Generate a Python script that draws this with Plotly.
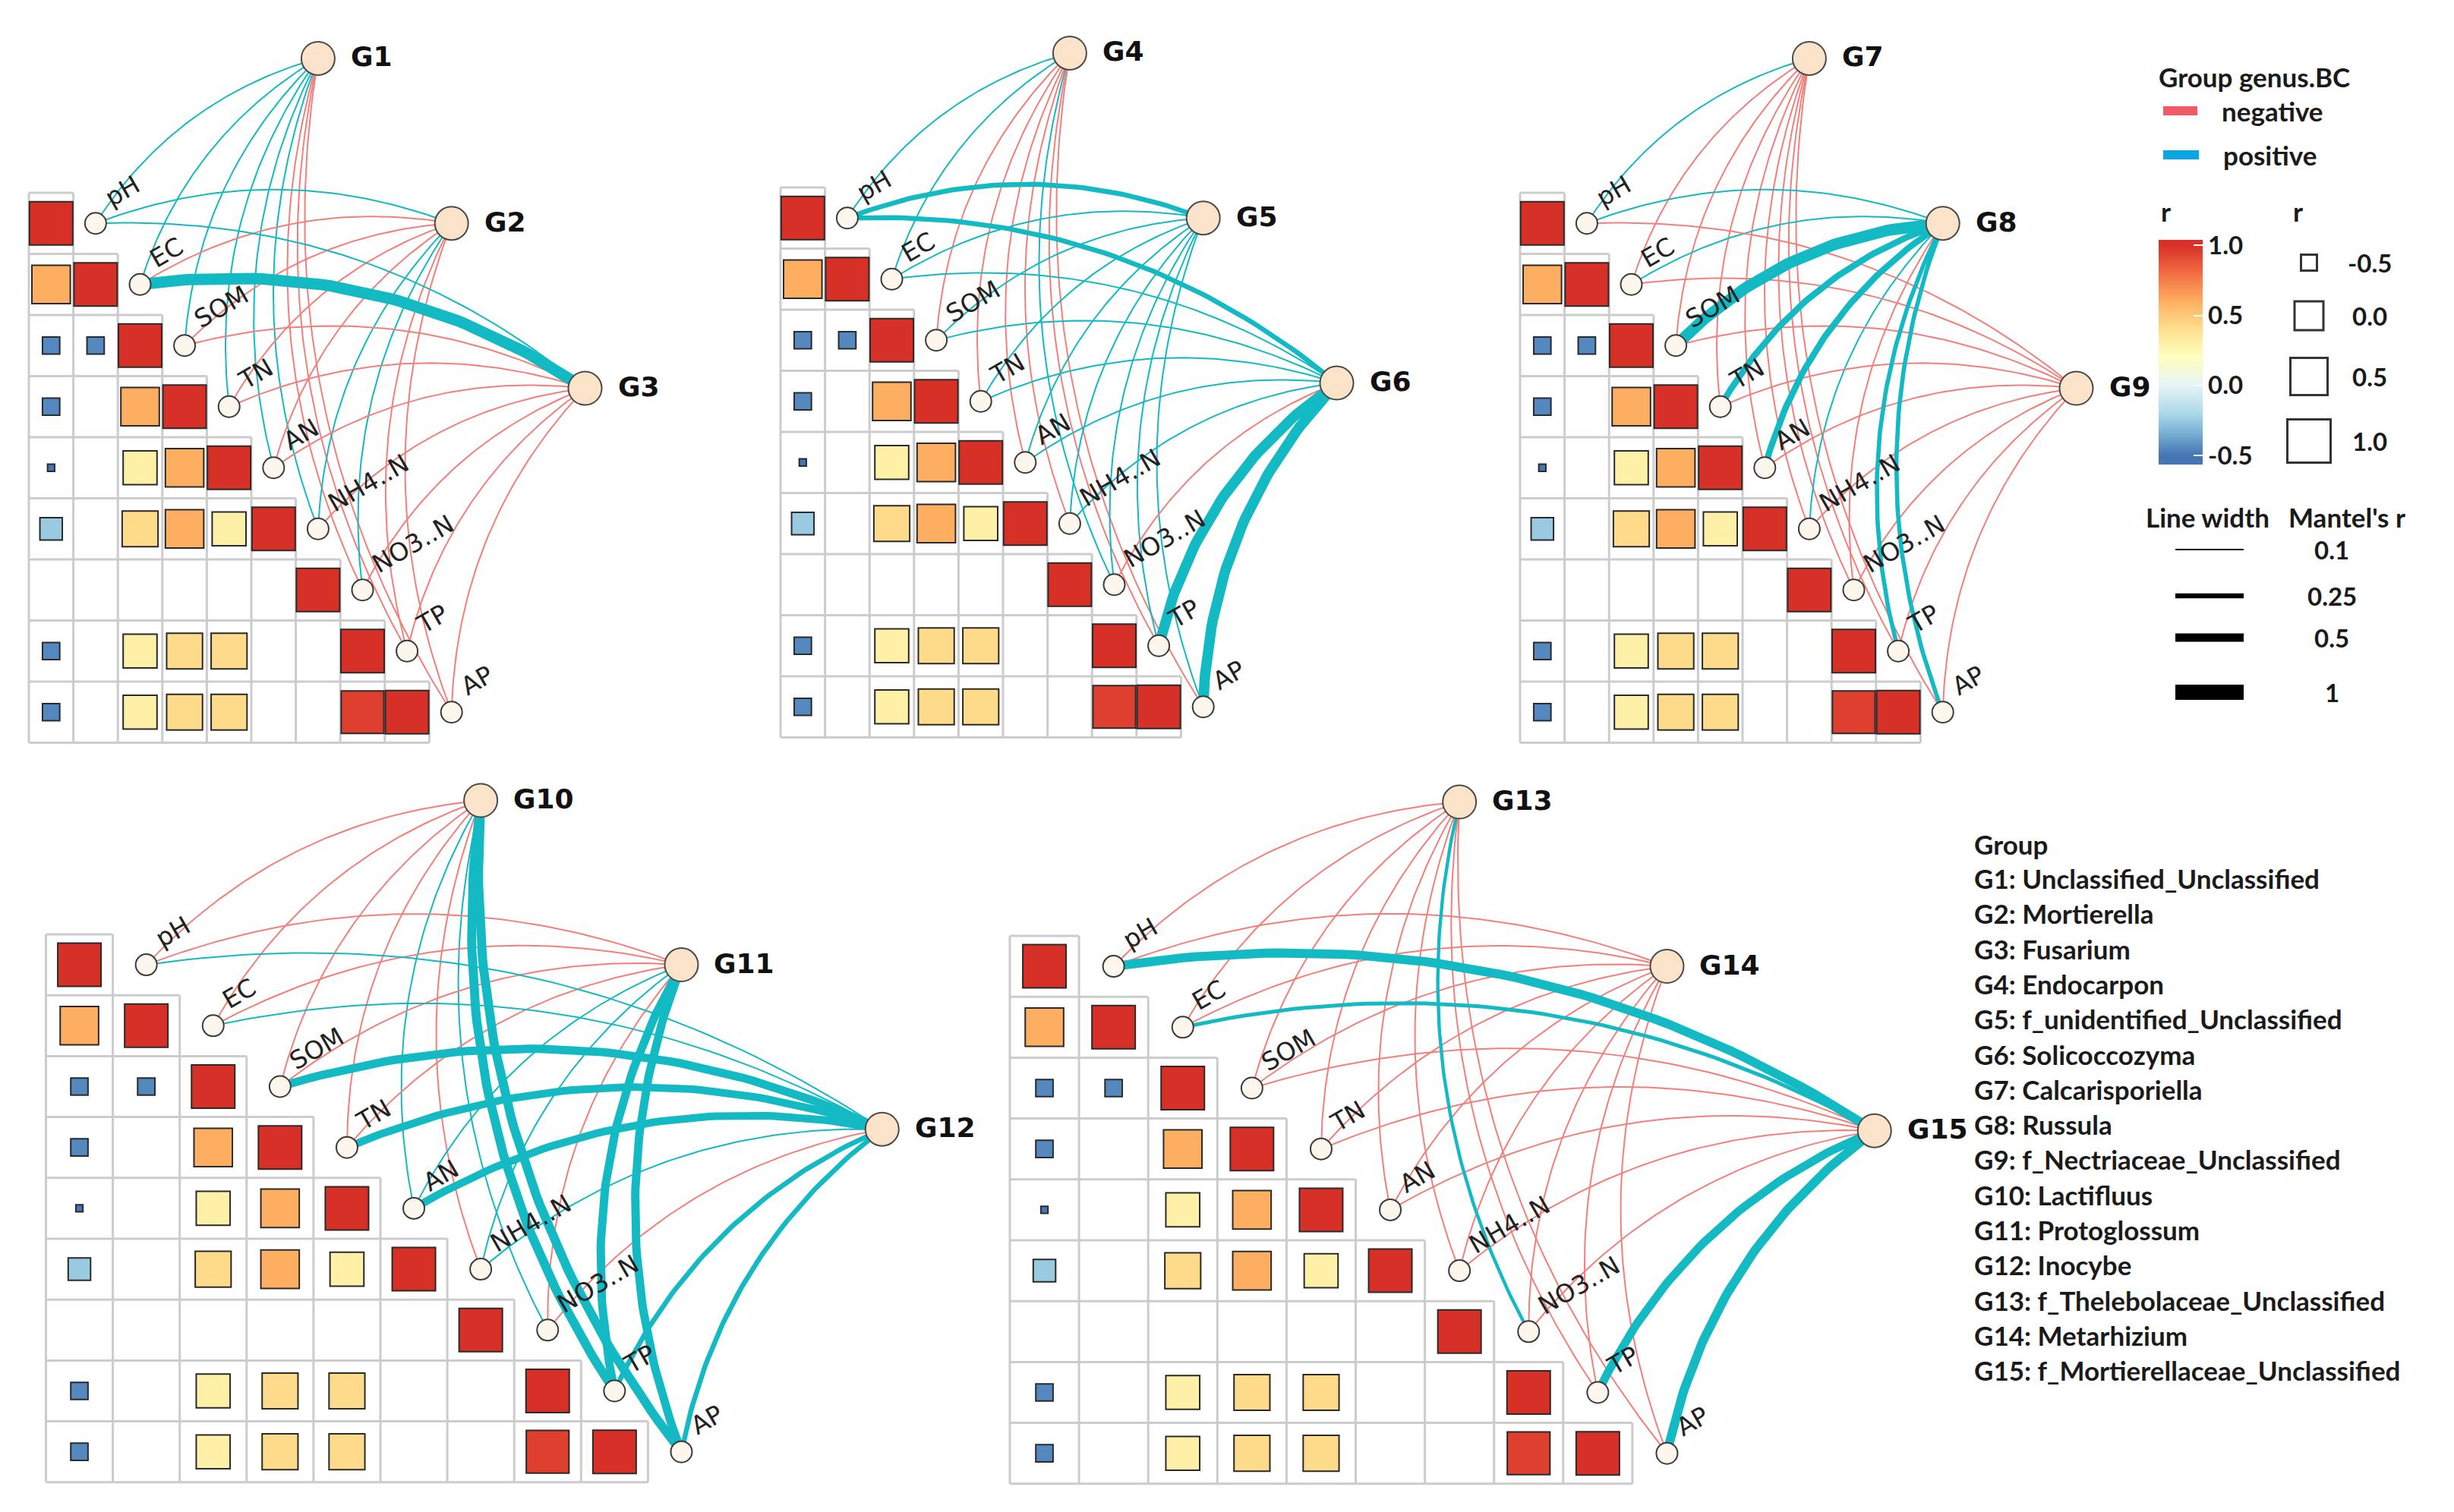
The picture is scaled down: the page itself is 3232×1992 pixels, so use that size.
import numpy as np
import plotly.graph_objects as go

W, H = 3232, 1992

# ---------------- data ----------------
ENV_VARS = ["pH", "EC", "SOM", "TN", "AN", "NH4..N", "NO3..N", "TP", "AP"]

# lower-triangular correlation matrix (row i, columns 0..i); None = not significant
CORR_ROWS = [
    [1.00],
    [0.60, 1.00],
    [-0.45, -0.45, 1.00],
    [-0.45, None, 0.60, 1.00],
    [-0.68, None, 0.30, 0.60, 1.00],
    [-0.25, None, 0.42, 0.60, 0.30, 1.00],
    [None, None, None, None, None, None, 1.00],
    [-0.45, None, 0.30, 0.42, 0.42, None, None, 1.00],
    [-0.45, None, 0.30, 0.42, 0.42, None, None, 0.95, 1.00],
]

PANEL_GROUPS = [
    ["G1", "G2", "G3"],
    ["G4", "G5", "G6"],
    ["G7", "G8", "G9"],
    ["G10", "G11", "G12"],
    ["G13", "G14", "G15"],
]

# signed Mantel's r of each group with each env variable (sign -> colour, |r| -> width)
MANTEL_P1 = [
    [0.10, 0.10, 0.10, 0.10, 0.10, 0.10, -0.10, -0.10, -0.10],
    [0.10, -0.10, -0.10, -0.10, -0.10, 0.10, 0.10, -0.10, -0.10],
    [0.10, 0.72, -0.10, -0.10, -0.10, -0.10, -0.10, -0.10, -0.10],
]
MANTEL_P2 = [
    [0.10, 0.10, -0.10, -0.10, -0.10, -0.10, 0.10, -0.10, -0.10],
    [0.25, 0.10, 0.10, 0.10, 0.10, 0.10, 0.10, 0.10, 0.10],
    [0.25, 0.10, 0.10, 0.10, 0.10, 0.10, -0.10, 0.65, 0.65],
]
MANTEL_P3 = [
    [0.10, -0.10, -0.10, -0.10, -0.10, -0.10, -0.10, -0.10, -0.10],
    [0.10, 0.10, 0.72, 0.35, 0.35, 0.10, -0.10, 0.22, 0.22],
    [-0.10, -0.10, -0.10, -0.10, -0.10, -0.10, -0.10, -0.10, -0.10],
]
MANTEL_P4 = [
    [-0.10, -0.10, -0.10, -0.10, 0.10, -0.10, 0.10, 0.55, 0.55],
    [-0.10, -0.10, -0.10, -0.10, 0.10, 0.10, -0.10, 0.50, 0.50],
    [0.10, 0.10, 0.50, 0.45, 0.45, 0.10, -0.10, 0.25, 0.25],
]
MANTEL_P5 = [
    [-0.10, -0.10, -0.10, -0.10, -0.10, -0.10, 0.18, -0.10, -0.10],
    [-0.10, -0.10, -0.10, -0.10, -0.10, -0.10, -0.10, -0.10, -0.10],
    [0.55, 0.20, -0.10, -0.10, -0.10, -0.10, -0.10, 0.50, 0.55],
]
MANTEL = [MANTEL_P1, MANTEL_P2, MANTEL_P3, MANTEL_P4, MANTEL_P5]

GROUP_NAMES = [
    "Unclassified_Unclassified", "Mortierella", "Fusarium", "Endocarpon",
    "f_unidentified_Unclassified", "Solicoccozyma", "Calcarisporiella", "Russula",
    "f_Nectriaceae_Unclassified", "Lactifluus", "Protoglossum", "Inocybe",
    "f_Thelebolaceae_Unclassified", "Metarhizium", "f_Mortierellaceae_Unclassified",
]

COLORBAR_TICKS = [-0.5, 0.0, 0.5, 1.0]
COLORBAR_TICK_TEXT = ["-0.5", "0.0", "0.5", "1.0"]
SIZE_KEYS = [-0.5, 0.0, 0.5, 1.0]
SIZE_KEY_TEXT = ["-0.5", "0.0", "0.5", "1.0"]
WIDTH_KEYS = [0.1, 0.25, 0.5, 1.0]
WIDTH_KEY_TEXT = ["0.1", "0.25", "0.5", "1"]

# ---------------- scales / styles ----------------
CB_MIN, CB_MAX = -0.565, 1.04
CS_R = [-0.565, -0.5, -0.35, -0.2, 0.0, 0.2, 0.4, 0.6, 0.8, 1.0, 1.04]
CS_C = ["#4575B4", "#4575B4", "#74ADD1", "#ABD9E9", "#E6F4F7", "#FFFFBF",
        "#FEE090", "#FDAE61", "#F46D43", "#D73027", "#D73027"]
COLORSCALE = [[(r - CB_MIN) / (CB_MAX - CB_MIN), c] for r, c in zip(CS_R, CS_C)]

SIZE_DOMAIN = [-0.7, -0.5, 0.0, 0.5, 1.0]
SIZE_RANGE = [8, 21, 38, 49, 57]
WIDTH_DOMAIN = [0.1, 0.25, 0.5, 1.0]
WIDTH_RANGE = [2.0, 6.5, 11.0, 20.0]


def square_side(r):
    return float(np.interp(r, SIZE_DOMAIN, SIZE_RANGE))


def link_width(m):
    return float(np.interp(abs(m), WIDTH_DOMAIN, WIDTH_RANGE))


NEG_COL = "#F37F7A"
POS_COL = "#13B9C3"
NEG_KEY = "#EF5B67"
POS_KEY = "#0BA5E2"

# panel geometry in pixels: grid left, grid top, cell width, cell height
PANEL_GEOM = [
    (30, 246, 58.6, 80.5),
    (1020, 239, 58.6, 80.5),
    (1994, 246, 58.6, 80.5),
    (52.5, 1223, 88.1, 80.2),
    (1322, 1225, 91.1, 80.2),
]
GROUP_POS = [(6.5, -2.2), (9.5, 0.5), (12.5, 3.2)]
XR = [-0.3, 14.0]
YR = [9.4, -2.8]

fig = go.Figure()
layout = dict(width=W, height=H, margin=dict(l=0, r=0, t=0, b=0, pad=0),
              paper_bgcolor="white", plot_bgcolor="rgba(0,0,0,0)", showlegend=False)
annotations = []


def bezier(p0, p2, k=0.19, n=60):
    a, b = p2[0] - p0[0], p2[1] - p0[1]
    mx, my = (p0[0] + p2[0]) / 2, (p0[1] + p2[1]) / 2
    cx, cy = mx - k * b, my + k * a
    t = np.linspace(0, 1, n)
    x = (1 - t) ** 2 * p0[0] + 2 * (1 - t) * t * cx + t ** 2 * p2[0]
    y = (1 - t) ** 2 * p0[1] + 2 * (1 - t) * t * cy + t ** 2 * p2[1]
    return x, y


for p, (L, T, cw, rh) in enumerate(PANEL_GEOM):
    n = p + 1
    sfx = "" if n == 1 else str(n)
    xa, ya = "x" + sfx, "y" + sfx
    x0, x1 = (L + XR[0] * cw) / W, (L + XR[1] * cw) / W
    ytop, ybot = max(T + YR[1] * rh, 0), min(T + YR[0] * rh, H)
    layout["xaxis" + sfx] = dict(domain=[x0, x1], range=XR, visible=False, anchor=ya, fixedrange=True)
    layout["yaxis" + sfx] = dict(domain=[1 - ybot / H, 1 - ytop / H],
                                 range=[(ybot - T) / rh, (ytop - T) / rh],
                                 visible=False, anchor=xa, fixedrange=True)

    # grid
    gx, gy = [], []
    nv = len(ENV_VARS)
    for k in range(nv + 1):
        gx += [0, min(k + 1, nv), None]
        gy += [k, k, None]
    for k in range(nv + 1):
        gx += [k, k, None]
        gy += [max(k - 1, 0), nv, None]
    fig.add_trace(go.Scatter(x=gx, y=gy, mode="lines", xaxis=xa, yaxis=ya,
                             line=dict(color="#CCCCCC", width=3), hoverinfo="skip",
                             cliponaxis=False))

    # squares
    sx, sy, sc, ss = [], [], [], []
    for i, row in enumerate(CORR_ROWS):
        for j, r in enumerate(row):
            if r is None:
                continue
            sx.append(j + 0.5)
            sy.append(i + 0.5)
            sc.append(r)
            ss.append(square_side(r))
    fig.add_trace(go.Scatter(x=sx, y=sy, mode="markers", xaxis=xa, yaxis=ya,
                             marker=dict(symbol="square", size=ss, color=sc, coloraxis="coloraxis",
                                         opacity=1, line=dict(color="#2A2A2A", width=2)),
                             cliponaxis=False, hoverinfo="skip"))

    # links
    links = []
    for g, (gxu, gyu) in enumerate(GROUP_POS):
        for e in range(nv):
            m = MANTEL[p][g][e]
            ex, ey = e + 1.5, e + 0.5
            links.append((abs(m), m, (gxu * cw, gyu * rh), (ex * cw, ey * rh)))
    links.sort(key=lambda z: z[0])
    for _, m, p0, p2 in links:
        bx, by = bezier(p0, p2)
        fig.add_trace(go.Scatter(x=bx / cw, y=by / rh, mode="lines", xaxis=xa, yaxis=ya,
                                 line=dict(color=POS_COL if m > 0 else NEG_COL, width=link_width(m)),
                                 cliponaxis=False, hoverinfo="skip"))

    # env nodes
    ex = [e + 1.5 for e in range(nv)]
    ey = [e + 0.5 for e in range(nv)]
    fig.add_trace(go.Scatter(x=ex, y=ey, mode="markers", xaxis=xa, yaxis=ya,
                             marker=dict(symbol="circle", size=28, color="#FDF6EC", opacity=1,
                                         line=dict(color="#3A3A3A", width=2)),
                             cliponaxis=False, hoverinfo="skip"))
    for e, name in enumerate(ENV_VARS):
        annotations.append(dict(x=ex[e], y=ey[e], xref=xa, yref=ya, text=name, showarrow=False,
                                xanchor="left", yanchor="bottom", xshift=3, yshift=12,
                                textangle=-30,
                                font=dict(family="DejaVu Sans", size=33, color="#222222")))

    # group nodes
    gxs = [g[0] for g in GROUP_POS]
    gys = [g[1] for g in GROUP_POS]
    fig.add_trace(go.Scatter(x=gxs, y=gys, mode="markers", xaxis=xa, yaxis=ya,
                             marker=dict(symbol="circle", size=44, color="#FBE3C9", opacity=1,
                                         line=dict(color="#4A4A4A", width=2)),
                             cliponaxis=False, hoverinfo="skip"))
    for g, name in enumerate(PANEL_GROUPS[p]):
        annotations.append(dict(x=gxs[g], y=gys[g], xref=xa, yref=ya, text="<b>%s</b>" % name,
                                showarrow=False, xanchor="left", yanchor="middle", xshift=41,
                                yshift=2, font=dict(family="DejaVu Sans", size=36, color="#111111")))

# overlay axis in pixel units for legends
layout["xaxis6"] = dict(domain=[0, 1], range=[0, W], visible=False, anchor="y6", fixedrange=True)
layout["yaxis6"] = dict(domain=[0, 1], range=[H, 0], visible=False, anchor="x6", fixedrange=True)

LEG_FONT = "Lato"


def ltext(x, y, s, size=35, xanchor="left", color="#1A1A1A"):
    annotations.append(dict(x=x, y=y, xref="x6", yref="y6", text="<b>%s</b>" % s, showarrow=False,
                            xanchor=xanchor, yanchor="middle",
                            font=dict(family=LEG_FONT, size=size, color=color)))


# colour legend of links
ltext(2833, 93, "Group genus.BC")
fig.add_trace(go.Scatter(x=[2841, 2886], y=[138, 138], mode="lines", xaxis="x6", yaxis="y6",
                         line=dict(color=NEG_KEY, width=12), hoverinfo="skip", cliponaxis=False))
fig.add_trace(go.Scatter(x=[2841, 2888], y=[196, 196], mode="lines", xaxis="x6", yaxis="y6",
                         line=dict(color=POS_KEY, width=12), hoverinfo="skip", cliponaxis=False))
ltext(2916, 138, "negative")
ltext(2918, 196, "positive")

# r titles
ltext(2836, 270, "r")
ltext(3010, 270, "r")

# size legend
kx = [3033] * len(SIZE_KEYS)
ky = [338, 408, 488, 573]
fig.add_trace(go.Scatter(x=kx, y=ky, mode="markers", xaxis="x6", yaxis="y6",
                         marker=dict(symbol="square", size=[square_side(v) for v in SIZE_KEYS],
                                     color="white", opacity=1, line=dict(color="#333333", width=3)),
                         hoverinfo="skip", cliponaxis=False))
for yy, s in zip(ky, SIZE_KEY_TEXT):
    ltext(3113, yy, s, size=33, xanchor="center")

# line width legend
ltext(2816, 673, "Line width")
ltext(3004, 673, "Mantel's r")
wy = [716, 777, 832, 904]
for yy, m, s in zip(wy, WIDTH_KEYS, WIDTH_KEY_TEXT):
    fig.add_trace(go.Scatter(x=[2857, 2947], y=[yy, yy], mode="lines", xaxis="x6", yaxis="y6",
                             line=dict(color="black", width=link_width(m)), hoverinfo="skip",
                             cliponaxis=False))
    ltext(3063, yy, s, size=33, xanchor="center")

# group list
ltext(2590, 1104, "Group")
for k, name in enumerate(GROUP_NAMES):
    ltext(2590, 1149 + 46.3 * k, "G%d: %s" % (k + 1, name))

layout["coloraxis"] = dict(
    cmin=CB_MIN, cmax=CB_MAX, colorscale=COLORSCALE,
    colorbar=dict(x=2835 / W, xanchor="left", y=1 - 456 / H, yanchor="middle",
                  len=296, lenmode="pixels", thickness=58, thicknessmode="pixels",
                  outlinewidth=0, xpad=0, ypad=0,
                  tickvals=COLORBAR_TICKS, ticktext=["<b>%s</b>" % t for t in COLORBAR_TICK_TEXT],
                  ticks="inside", ticklen=12, tickcolor="white", tickwidth=2,
                  tickfont=dict(family=LEG_FONT, size=33, color="#1A1A1A"),
                  title=dict(text="")))
layout["annotations"] = annotations
fig.update_layout(**layout)
fig.write_html("out.html")
